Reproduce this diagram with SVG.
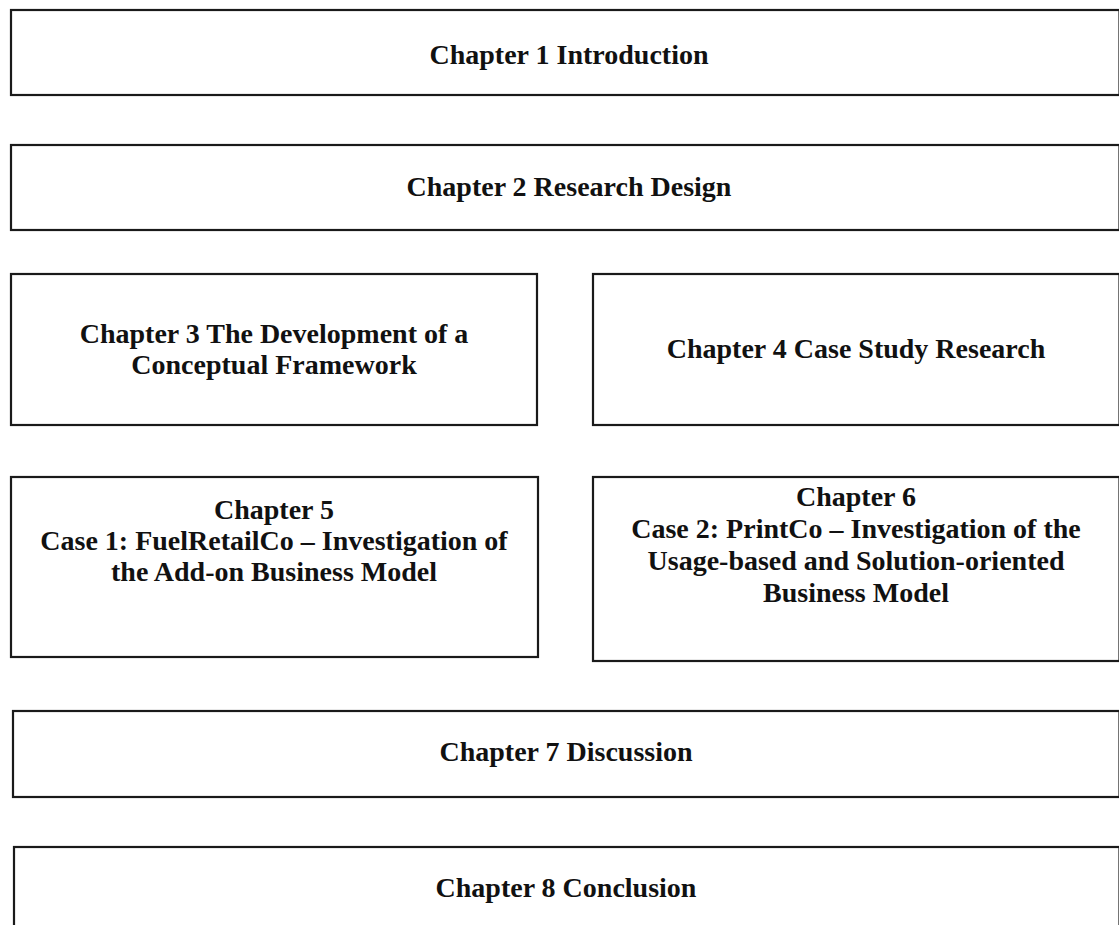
<svg xmlns="http://www.w3.org/2000/svg" width="1119" height="925" viewBox="0 0 1119 925">
  <style>
    .box { fill: #ffffff; stroke: #1a1a1a; stroke-width: 2.2; }
    .lbl { font-family: "Liberation Serif", "Times New Roman", serif; font-weight: bold; font-size: 28px; fill: #111111; text-anchor: middle; }
  </style>
  <rect width="1119" height="925" fill="#ffffff"/>

  <g id="ch1">
    <rect class="box" x="11" y="10" width="1108.5" height="85"/>
    <text class="lbl" x="569" y="64">Chapter 1 Introduction</text>
  </g>

  <g id="ch2">
    <rect class="box" x="11" y="145" width="1108.5" height="85"/>
    <text class="lbl" x="569" y="196">Chapter 2 Research Design</text>
  </g>

  <g id="ch3">
    <rect class="box" x="11" y="274" width="526" height="151"/>
    <text class="lbl" x="274" y="343">Chapter 3 The Development of a</text>
    <text class="lbl" x="274" y="374">Conceptual Framework</text>
  </g>

  <g id="ch4">
    <rect class="box" x="593" y="274" width="526.5" height="151"/>
    <text class="lbl" x="856" y="358">Chapter 4 Case Study Research</text>
  </g>

  <g id="ch5">
    <rect class="box" x="11" y="477" width="527" height="180"/>
    <text class="lbl" x="274" y="519">Chapter 5</text>
    <text class="lbl" x="274" y="550">Case 1: FuelRetailCo – Investigation of</text>
    <text class="lbl" x="274" y="581">the Add-on Business Model</text>
  </g>

  <g id="ch6">
    <rect class="box" x="593" y="477" width="526.5" height="184"/>
    <text class="lbl" x="856" y="506">Chapter 6</text>
    <text class="lbl" x="856" y="538">Case 2: PrintCo – Investigation of the</text>
    <text class="lbl" x="856" y="570">Usage-based and Solution-oriented</text>
    <text class="lbl" x="856" y="602">Business Model</text>
  </g>

  <g id="ch7">
    <rect class="box" x="13" y="711" width="1106.5" height="86"/>
    <text class="lbl" x="566" y="761">Chapter 7 Discussion</text>
  </g>

  <g id="ch8">
    <rect class="box" x="14" y="847" width="1105.5" height="100"/>
    <text class="lbl" x="566" y="897">Chapter 8 Conclusion</text>
  </g>

  <g id="connectors"></g>
</svg>
